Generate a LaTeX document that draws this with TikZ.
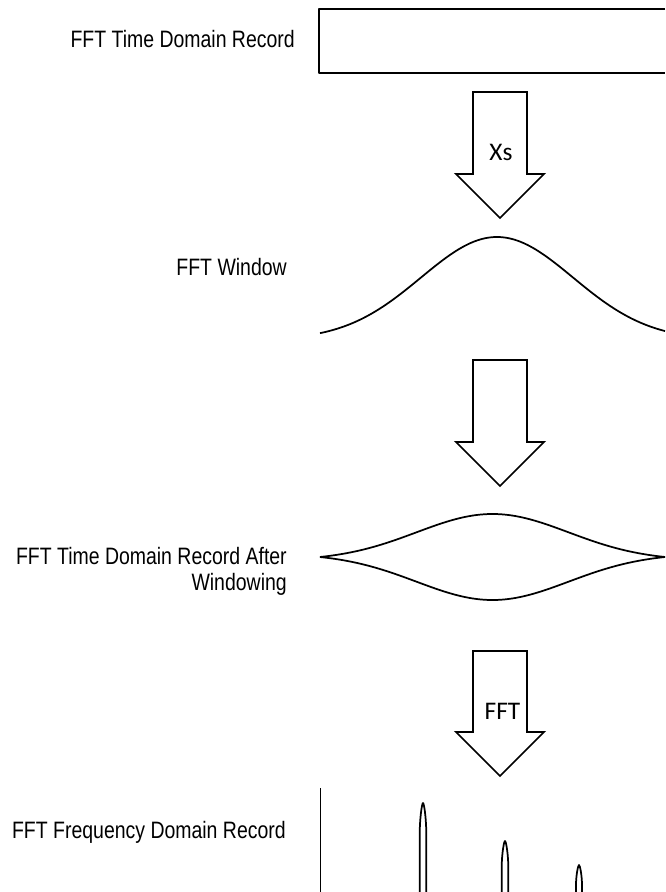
\documentclass[tikz,border=0pt]{standalone}
\usepackage{fontspec}
\newfontfamily\lblfont{Liberation Sans}[FakeStretch=0.82]
\newfontfamily\arrfont{Carlito}

\begin{document}
\begin{tikzpicture}[x=0.75pt,y=0.75pt,yscale=-1,xscale=1,
  trace/.style={line width=1.3pt, line join=round},
  blockarrow/.style={line width=1.3pt, line join=miter},
  caption/.style={anchor=base east, inner sep=0pt, align=right, font=\lblfont\fontsize{17.8}{19}\selectfont},
  arrowtext/.style={inner sep=0pt, font=\arrfont\fontsize{19}{22}\selectfont}]

\useasboundingbox (0,0) rectangle (665,892);

% time domain record (open to the right)
\draw [trace]   (665,9) -- (319,9) -- (319,73) -- (665,73) ;

% block arrows
\draw [blockarrow]   (473,92) -- (527,92) -- (527,174) -- (544,174) -- (500,218) -- (456,174) -- (473,174) -- cycle ;

\draw [blockarrow]   (473,360) -- (527,360) -- (527,442) -- (544,442) -- (500,486) -- (456,442) -- (473,442) -- cycle ;

\draw [blockarrow]   (473,651) -- (527,651) -- (527,732) -- (544,732) -- (500,776) -- (456,732) -- (473,732) -- cycle ;

% window
\draw [trace] plot [smooth, domain=320:665, samples=70] (\x, {340-103*exp(-0.5*((\x-497)/76)^2)}) ;

% record after windowing
\draw [trace] plot [smooth, domain=320:665, samples=70] (\x, {557-43*(exp(-0.5*((\x-492.5)/76)^2)-0.076)/0.924}) ;
\draw [trace] plot [smooth, domain=320:665, samples=70] (\x, {557+43*(exp(-0.5*((\x-492.5)/76)^2)-0.076)/0.924}) ;

% frequency domain record
\draw [line width=0.6pt]   (320,788) -- (320,892) ;

\coordinate (peakA) at (423,803) ;
\coordinate (peakB) at (505,841) ;
\coordinate (peakC) at (579,865) ;

\draw [trace]   (419.7,892) -- (419.7,835) .. controls (419.7,818) and (422,803) .. (peakA) .. controls (424,803) and (426.3,818) .. (426.3,835) -- (426.3,892) ;
\draw [trace]   (501.7,892) -- (501.7,868) .. controls (501.7,854) and (504,841) .. (peakB) .. controls (506,841) and (508.3,854) .. (508.3,868) -- (508.3,892) ;
\draw [trace]   (576,892) -- (576,885) .. controls (576,876) and (578,865) .. (peakC) .. controls (580,865) and (582,876) .. (582,885) -- (582,892) ;

% labels
\node [caption] (tdrLbl) at (295,48) {FFT Time Domain Record};
\node [caption] (winLbl) at (287,275) {FFT Window};
\node [caption] (twinLbl) at (287,590) {FFT Time Domain Record After\\Windowing};
\node [caption] (fdrLbl) at (286,838) {FFT Frequency Domain Record};

\node [arrowtext] (xsLbl) at (501,152.5) {Xs};
\node [arrowtext] (fftLbl) at (502.5,711) {FFT};

\end{tikzpicture}
\end{document}
